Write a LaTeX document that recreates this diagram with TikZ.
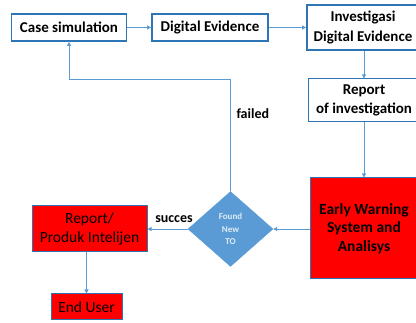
\documentclass[tikz,border=0pt]{standalone}
\usepackage{fontspec}
\setmainfont{Carlito}
\usepackage{tikz}
\usetikzlibrary{
  arrows.meta,
  positioning,
  shapes.geometric,
}
\definecolor{flowline}{HTML}{5B9BD5}
\definecolor{boxedge}{HTML}{2E75B6}
\definecolor{alarm}{HTML}{FF0000}
\definecolor{pale}{HTML}{DDEBF7}
\tikzset{
  >={Triangle[length=4pt,width=4pt]},
  flow/.style={draw=flowline, line width=0.9pt, ->},
  stepbox/.style={
    draw=boxedge,
    line width=1.8pt,
    fill=white,
    align=center,
    inner sep=0pt,
    font=\fontsize{15}{20}\selectfont\bfseries,
  },
  redbox/.style={
    draw=boxedge,
    line width=1pt,
    fill=alarm,
    align=center,
    inner sep=0pt,
    font=\fontsize{15.5}{19}\selectfont,
  },
  decision/.style={
    shape=diamond,
    draw=flowline,
    fill=flowline,
    inner sep=0pt,
    minimum width=85pt,
    minimum height=75pt,
    align=center,
    text=pale,
    font=\fontsize{9}{12.5}\selectfont\bfseries,
  },
  tag/.style={font=\fontsize{14}{15}\selectfont\bfseries},
}

\begin{document}
\begin{tikzpicture}[x=1pt,y=-1pt]
  \useasboundingbox (0,0) rectangle (416,323);

  % --- top row ---
  \node[stepbox, minimum width=115pt, minimum height=27pt] (case) at (69,27.5) {Case simulation};
  \node[stepbox, minimum width=116pt, minimum height=27pt] (digital) at (210,27.5) {Digital Evidence};
  \node[stepbox, minimum width=112pt, minimum height=45pt] (invest) at (363,27.5) {Investigasi\\Digital Evidence};
  \node[stepbox, line width=1pt, minimum width=112pt, minimum height=43pt,
        font=\fontsize{15}{19}\selectfont\bfseries] (report) at (364,100.5) {Report\\of investigation};

  % --- lower part ---
  \node[redbox, minimum width=108pt, minimum height=101pt,
        font=\fontsize{15.5}{18.5}\selectfont\bfseries] (early) at (364,228.5) {Early Warning\\System and\\Analisys};
  \node[decision] (found) at (230.5,229) {Found\\New\\TO};
  \node[redbox, minimum width=115pt, minimum height=46pt] (product) at (89.5,229) {Report/\\Produk Intelijen};
  \node[redbox, minimum width=71pt, minimum height=26pt] (enduser) at (86.5,307) {End User};

  % --- connectors ---
  \draw[flow] (case) -- (digital);
  \draw[flow] (digital) -- (digital -| invest.west);
  \draw[flow] (invest.south -| report.north) -- (report.north);
  \draw[flow] (report) -- (early);
  \draw[flow] (early.west |- found) -- (found.east);
  \draw[flow] (found.west) -- (product.east);
  \draw[flow] (product.south -| enduser.north) -- (enduser.north);
  \coordinate (loop) at (69,79);
  \draw[flow] (found.north) |- (loop) -- (case.south);

  \node[tag, anchor=west] (failed) at (233,114) {failed};
  \node[tag] (succes) at (174,219) {succes};
\end{tikzpicture}
\end{document}
